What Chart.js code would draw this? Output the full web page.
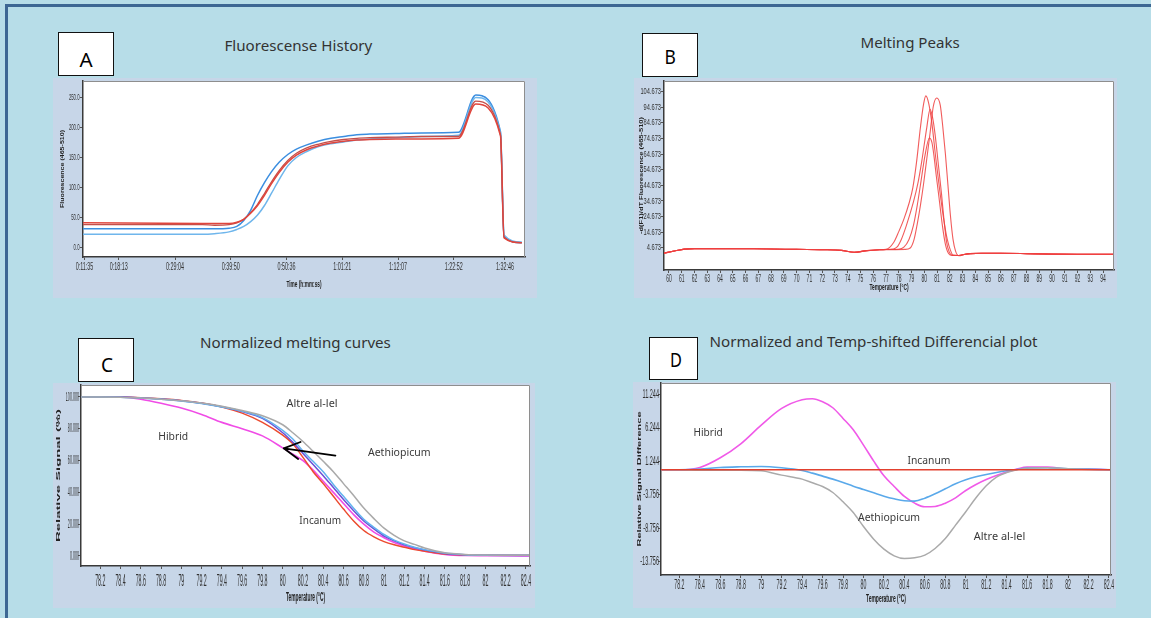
<!DOCTYPE html>
<html><head><meta charset="utf-8">
<script src="https://cdn.jsdelivr.net/npm/chart.js@4.4.1/dist/chart.umd.min.js"></script>
<style>
html,body{margin:0;padding:0;}
body{width:1151px;height:618px;overflow:hidden;background:#b7dde8;position:relative;font-family:"Noto Sans",sans-serif;}
#frame{position:absolute;left:5px;top:4px;width:1400px;height:900px;border-left:3px solid #3d6793;border-top:3px solid #3d6793;}
.plate{position:absolute;background:#c7d6e8;}
.plate canvas{position:absolute;left:0;top:0;}
.box{position:absolute;background:#fff;border:1.5px solid #111;box-sizing:border-box;}
.txt{position:absolute;white-space:nowrap;line-height:1;transform-origin:center center;}
</style></head>
<body>
<div id="frame"></div>
<div class="plate" id="pA"><canvas id="cA"></canvas></div>
<div class="plate" id="pB"><canvas id="cB"></canvas></div>
<div class="plate" id="pC"><canvas id="cC"></canvas></div>
<div class="plate" id="pD"><canvas id="cD"></canvas></div>
<script>
// ---------------- DATA ----------------
// Panel A : Fluorescence history (time in seconds)
const timeTicksA = ["0:11:35","0:18:13","0:29:04","0:39:50","0:50:36","1:01:21","1:12:07","1:22:52","1:32:46"];
const yTicksA = [0, 50, 100, 150, 200, 250];
const timeA = [678, 2060, 2200, 2370, 2460, 2540, 2620, 2700, 2780, 2860, 2950, 3050, 3150, 3270, 3400, 3550, 3700, 3850, 4000, 4300, 4600, 5027, 5228, 5514, 5555, 5761];
const blueA      = [31, 31, 31, 32, 35, 45, 62, 87, 108, 126, 142, 155, 164, 171, 177, 182, 185, 188, 189, 190, 191, 192, 254, 193, 19, 8];
const lightBlueA = [22, 22, 23, 26, 30, 35, 43, 54, 70, 90, 113, 136, 150, 160, 168, 173, 176, 179, 181, 183, 185, 187, 250, 190, 21, 9];
const redA       = [41, 40, 40, 40, 42, 47, 57, 70, 87, 106, 125, 142, 154, 163, 169, 174, 177, 179, 180, 181, 181, 182, 239, 186, 16, 8];
const darkRedA   = [38, 38, 37, 38, 41, 47, 58, 72, 90, 109, 128, 145, 157, 166, 172, 177, 180, 182, 183, 184, 185, 185, 244, 188, 17, 8];

// Panel B : Melting peaks
const xTicksB = [60,61,62,63,64,65,66,67,68,69,70,71,72,73,74,75,76,77,78,79,80,81,82,83,84,85,86,87,88,89,90,91,92,93,94];
const yTicksB = [4.673, 14.673, 24.673, 34.673, 44.673, 54.673, 64.673, 74.673, 84.673, 94.673, 104.673];
const baseTB = [59.6, 60.5, 61.2, 62, 64, 66, 68, 70, 72, 73.5, 74.5, 75.5, 76.5];
const baseVB = [1.2, 2.7, 3.8, 4.1, 4.1, 4.0, 3.9, 3.6, 3.4, 3.0, 1.8, 2.8, 3.4];
const tailTB = [83.2, 83.6, 84.5, 86, 88, 90, 92, 94.8];
const tailVB = [0.5, 0.9, 1.1, 1.1, 0.9, 0.6, 0.5, 0.5];
const peak1T = [77.0, 77.6, 78.0, 78.4, 78.8, 79.1, 79.4, 79.7, 79.95, 80.12, 80.35, 80.6, 80.9, 81.2, 81.5, 81.8, 82.05, 82.25, 82.7];
const peak1V = [3.6, 8, 15, 23, 33, 43, 60, 82, 97, 102, 97, 84, 62, 42, 24, 10, 3, 0, -0.3];
const peak2T = [77.0, 78.5, 78.9, 79.2, 79.45, 79.7, 79.95, 80.2, 80.45, 80.7, 80.98, 81.25, 81.45, 81.65, 81.85, 82.05, 82.25, 82.45, 82.7];
const peak2V = [3.4, 3.6, 4.5, 10, 20, 32, 46, 62, 78, 95, 100.6, 96, 82, 65, 45, 25, 10, 2.5, -0.5];
const peak3T = [77.0, 77.5, 77.85, 78.2, 78.6, 79.15, 79.5, 79.8, 80.2, 80.45, 80.65, 80.85, 81.1, 81.35, 81.55, 81.75, 81.95, 82.2, 82.7];
const peak3V = [3.5, 3.8, 5, 10, 19, 34, 46, 60, 82, 93.4, 88, 77, 58, 39, 22, 8, 2, -0.2, -0.3];
const peak4T = [77.0, 78.0, 78.4, 78.8, 79.15, 79.45, 79.7, 80.06, 80.4, 80.6, 80.75, 80.95, 81.15, 81.4, 81.65, 81.9, 82.2, 82.7];
const peak4V = [3.5, 3.7, 5, 10, 19, 32, 45, 64, 75, 72, 64, 50, 37, 20, 7, 1, -0.3, -0.3];

// Panel C : Normalized melting curves
const xTicksCD = [78.2,78.4,78.6,78.8,79,79.2,79.4,79.6,79.8,80,80.2,80.4,80.6,80.8,81,81.2,81.4,81.6,81.8,82,82.2,82.4];
const yTicksC = [0, 20, 40, 60, 80, 100];
const tempC = [78.01, 78.2, 78.4, 78.6, 78.8, 79.0, 79.2, 79.4, 79.6, 79.8, 80.0, 80.1, 80.2, 80.3, 80.4, 80.5, 80.6, 80.7, 80.8, 80.9, 81.0, 81.1, 81.2, 81.3, 81.4, 81.6, 81.8, 82.0, 82.2, 82.44];
const altreC   = [100, 100, 99.8, 99.3, 98.6, 97.6, 96.2, 94.2, 91.5, 88.2, 82.5, 77.5, 72.0, 65.8, 59.5, 53, 45.5, 38, 30.1, 23.5, 17.5, 13, 9.5, 7.3, 5, 2, 1, 0.6, 0.5, 0.5];
const aethC    = [100, 100, 99.8, 99.3, 98.6, 97.4, 95.8, 93.6, 91, 87, 79, 73.5, 66, 59.5, 53, 45, 37.5, 30, 23, 18, 13.5, 10, 7.5, 5.5, 4, 1.8, 0.8, 0.5, 0.4, 0.4];
const purpleC  = [100, 100, 99.9, 99.4, 98.7, 97.6, 96, 93.8, 90.8, 86.5, 77.5, 71.5, 64.5, 57.5, 50.5, 43, 35.5, 28.5, 22, 17, 12.5, 9.5, 7, 5.2, 3.8, 1.6, 0.7, 0.4, 0.3, 0.3];
const incanumC = [100, 100, 99.9, 99.5, 98.8, 97.8, 96.2, 93.7, 89.8, 84, 76, 70.5, 62, 53, 45.5, 37.5, 29.5, 22, 16, 12, 9, 7, 5.5, 4, 3, 1.2, 0.6, 0.5, 0.5, 0.5];
const hibridC  = [100, 100, 100, 98.5, 96, 93, 89, 84, 80, 75.5, 68, 64, 60, 54, 47, 40, 33, 26, 20, 15, 11.5, 8.5, 6.3, 4.5, 3, 1, 0.3, 0.2, 0.2, 0];

// Panel D : Differential plot
const yTicksD = [-13.756, -8.756, -3.756, 1.244, 6.244, 11.244];
const tempD = [78.02, 78.2, 78.4, 78.6, 78.8, 79.0, 79.2, 79.4, 79.5, 79.6, 79.7, 79.8, 79.9, 80.0, 80.1, 80.2, 80.3, 80.4, 80.5, 80.6, 80.7, 80.8, 80.9, 81.0, 81.1, 81.2, 81.3, 81.4, 81.5, 81.6, 81.8, 82.0, 82.2, 82.42];
const hibridD  = [0, 0, 0.35, 1.8, 3.9, 6.7, 9.2, 10.5, 10.65, 10.2, 9.3, 7.7, 6.0, 3.7, 1.3, -0.9, -2.5, -4.0, -5.0, -5.55, -5.5, -5.0, -4.2, -3.1, -2.2, -1.45, -0.85, -0.35, 0.1, 0.4, 0.4, 0.1, 0.1, 0];
const aethD    = [0, 0, 0.1, 0.35, 0.45, 0.5, 0.3, -0.1, -0.5, -0.95, -1.4, -1.9, -2.45, -2.95, -3.45, -3.95, -4.35, -4.65, -4.7, -4.25, -3.6, -2.85, -2.1, -1.5, -1.05, -0.7, -0.4, -0.15, 0.05, 0.25, 0.3, 0.15, 0.1, 0];
const altreD   = [0, 0, -0.05, -0.05, -0.05, -0.15, -0.8, -1.4, -1.95, -2.5, -3.4, -4.8, -6.4, -8.5, -10.4, -11.9, -12.9, -13.3, -13.2, -12.8, -11.8, -10.3, -8.3, -6.3, -4.2, -2.4, -1.1, -0.4, 0.0, 0.25, 0.3, 0.15, 0.05, 0];
const incanumD = [0, 0, 0, 0, 0, 0, 0, 0, 0, 0, 0, 0, 0, 0, 0, 0, 0, 0, 0, 0, 0, 0, 0, 0, 0, 0, 0, 0, 0, 0, 0, 0, 0, 0];

// ---------------- LAYOUT ----------------
const layout = {
  A:{plate:{l:53,t:78,r:537,b:298}, plot:{l:83,t:81,r:525,b:257}},
  B:{plate:{l:634,t:78,r:1117,b:298}, plot:{l:664,t:81,r:1114,b:270}},
  C:{plate:{l:53,t:383,r:535,b:608}, plot:{l:81,t:385,r:530,b:566}},
  D:{plate:{l:633,t:382,r:1116,b:608}, plot:{l:661,t:383,r:1111,b:575}}
};
const TF = '"Liberation Sans", Arial, sans-serif';
const TICK_COLOR = '#333';
const NOTE_FONT = '11px "Noto Sans", sans-serif';

function toSec(s){ const p = s.split(':').map(Number); return p[0]*3600 + p[1]*60 + p[2]; }
function fmtTime(v){ const h=Math.floor(v/3600), m=Math.floor((v%3600)/60), s=Math.round(v%60); return h+':'+String(m).padStart(2,'0')+':'+String(s).padStart(2,'0'); }
function pts(xs, ys){ return xs.map((x,i)=>({x:x, y:ys[i]})); }

function ctext(ctx, str, x, y, font, sx, align, color, rot){
  ctx.save(); ctx.translate(x, y); if (rot) ctx.rotate(rot); ctx.scale(sx, 1);
  ctx.font = font; ctx.fillStyle = color; ctx.textAlign = align; ctx.textBaseline = 'middle';
  ctx.fillText(str, 0, 0); ctx.restore();
}
function wscale(ctx, str, font, w){ ctx.save(); ctx.font = font; const m = ctx.measureText(str).width; ctx.restore(); return w / m; }

function makePlugin(cfg, P){
  return {
    id: 'fig',
    beforeDraw(chart){
      const {ctx, chartArea:a} = chart;
      ctx.save(); ctx.fillStyle = '#ffffff'; ctx.fillRect(a.left, a.top, a.right-a.left, a.bottom-a.top); ctx.restore();
    },
    afterDraw(chart){
      const {ctx, chartArea:a} = chart; const xs = chart.scales.x, ys = chart.scales.y;
      ctx.save(); ctx.strokeStyle = '#8e8e8e'; ctx.lineWidth = 1;
      ctx.beginPath(); ctx.moveTo(a.left, a.top+0.5); ctx.lineTo(a.right-0.5, a.top+0.5); ctx.lineTo(a.right-0.5, a.bottom); ctx.stroke(); ctx.restore();
      cfg.yTicks.forEach(v => ctext(ctx, cfg.yFmt(v), a.left - cfg.yLab.gap, ys.getPixelForValue(v), cfg.yLab.font, cfg.yLab.sx, 'right', TICK_COLOR));
      cfg.xTicks.forEach(v => ctext(ctx, cfg.xFmt(v), xs.getPixelForValue(v), a.bottom + cfg.xLab.dy, cfg.xLab.font, cfg.xLab.sx, 'center', TICK_COLOR));
      const xt = cfg.xTitle;
      ctext(ctx, xt.text, (a.left+a.right)/2, xt.y - P.t, xt.font, wscale(ctx, xt.text, xt.font, xt.w), 'center', '#222');
      const yt = cfg.yTitle;
      ctext(ctx, yt.text, yt.x - P.l, (a.top+a.bottom)/2, yt.font, wscale(ctx, yt.text, yt.font, yt.w), 'center', '#222', -Math.PI/2);
      (cfg.notes || []).forEach(n => ctext(ctx, n.text, xs.getPixelForValue(n.x), ys.getPixelForValue(n.y), NOTE_FONT, wscale(ctx, n.text, NOTE_FONT, n.w), 'center', '#3a3a3a'));
      if (cfg.arrow){
        const x0 = xs.getPixelForValue(cfg.arrow.from[0]), y0 = ys.getPixelForValue(cfg.arrow.from[1]);
        const x1 = xs.getPixelForValue(cfg.arrow.to[0]), y1 = ys.getPixelForValue(cfg.arrow.to[1]);
        const ang = Math.atan2(y0-y1, x0-x1), L = 18;
        ctx.save(); ctx.strokeStyle = '#000'; ctx.lineWidth = 1.8; ctx.lineCap = 'round';
        ctx.beginPath(); ctx.moveTo(x0,y0); ctx.lineTo(x1,y1);
        [-0.5, 0.5].forEach(d => { ctx.moveTo(x1,y1); ctx.lineTo(x1 + L*Math.cos(ang+d), y1 + L*Math.sin(ang+d)); });
        ctx.stroke(); ctx.restore();
      }
    }
  };
}

function build(key, cfg){
  const P = layout[key].plate, Q = layout[key].plot;
  const wrap = document.getElementById('p'+key), cv = document.getElementById('c'+key);
  const W = P.r - P.l, H = P.b - P.t;
  wrap.style.left = P.l+'px'; wrap.style.top = P.t+'px'; wrap.style.width = W+'px'; wrap.style.height = H+'px';
  cv.width = W; cv.height = H; cv.style.width = W+'px'; cv.style.height = H+'px';
  const axisCommon = {
    type:'linear',
    grid:{display:true, drawOnChartArea:false, drawTicks:true, tickLength:3, color:'#555', lineWidth:1},
    border:{display:true, color:'#3a3a3a', width:1.5},
    ticks:{color:'rgba(0,0,0,0)', autoSkip:false, maxRotation:0, minRotation:0, font:{size:6}}
  };
  return new Chart(cv, {
    type:'line',
    data:{datasets: cfg.datasets},
    options:{
      responsive:false, animation:false, maintainAspectRatio:false,
      layout:{autoPadding:false, padding:{left:0, top:Q.t-P.t, right:P.r-Q.r, bottom:0}},
      plugins:{legend:{display:false}, tooltip:{enabled:false}},
      elements:{point:{radius:0}, line:{borderWidth:1.4, cubicInterpolationMode:'monotone'}},
      scales:{
        x:Object.assign({}, axisCommon, {min:cfg.xMin, max:cfg.xMax,
          afterBuildTicks:s=>{ s.ticks = cfg.xTicks.map(v=>({value:v})); },
          afterFit:s=>{ s.height = P.b - Q.b; s.paddingLeft = 0; s.paddingRight = 0; }}),
        y:Object.assign({}, axisCommon, {min:cfg.yMin, max:cfg.yMax,
          afterBuildTicks:s=>{ s.ticks = cfg.yTicks.map(v=>({value:v})); },
          afterFit:s=>{ s.width = Q.l - P.l; s.paddingTop = 0; s.paddingBottom = 0; }})
      }
    },
    plugins:[makePlugin(cfg, P)]
  });
}

function ds(data, color, width){ return {data:data, borderColor:color, borderWidth:width||1.4, fill:false, pointRadius:0}; }

// Panel A
build('A', {
  xMin:678, xMax:5798, yMin:-15.9, yMax:277.5,
  xTicks: timeTicksA.map(toSec), xFmt: fmtTime,
  yTicks: yTicksA, yFmt: v => v.toFixed(1),
  yLab:{font:'9px '+TF, sx:0.47, gap:3.5}, xLab:{font:'10px '+TF, sx:0.54, dy:10.5},
  xTitle:{text:'Time (h:mm:ss)', y:284.5, font:'bold 8.5px '+TF, w:35},
  yTitle:{text:'Fluorescence (465-510)', x:62.5, font:'bold 5.5px '+TF, w:78},
  datasets:[
    ds(pts(timeA, redA), '#e0453c', 1.5),
    ds(pts(timeA, darkRedA), '#c44f4a', 1.3),
    ds(pts(timeA, lightBlueA), '#6fb6ec', 1.5),
    ds(pts(timeA, blueA), '#3b8ee0', 1.5)
  ]
});

// Panel B
const bColor = 'rgba(238,62,62,0.85)';
build('B', {
  xMin:59.61, xMax:94.86, yMin:-9.6, yMax:111.5,
  xTicks: xTicksB, xFmt: v => String(v),
  yTicks: yTicksB, yFmt: v => v.toFixed(3),
  yLab:{font:'9.5px '+TF, sx:0.6, gap:3}, xLab:{font:'10px '+TF, sx:0.5, dy:9.5},
  xTitle:{text:'Temperature (°C)', y:288, font:'bold 8.5px '+TF, w:39},
  yTitle:{text:'-d(F1)/dT Fluorescence (465-510)', x:641.5, font:'bold 4.5px '+TF, w:117},
  datasets:[
    ds(pts(baseTB.concat(peak1T, tailTB), baseVB.concat(peak1V, tailVB)), bColor, 1.1),
    ds(pts(baseTB.concat(peak2T, tailTB), baseVB.concat(peak2V, tailVB)), bColor, 1.1),
    ds(pts(baseTB.concat(peak3T, tailTB), baseVB.concat(peak3V, tailVB)), bColor, 1.1),
    ds(pts(baseTB.concat(peak4T, tailTB), baseVB.concat(peak4V, tailVB)), bColor, 1.1)
  ]
});

// Panel C
const fmtT = v => String(parseFloat(v.toFixed(1)));
build('C', {
  xMin:78.01, xMax:82.44, yMin:-6.3, yMax:107.5,
  xTicks: xTicksCD, xFmt: fmtT,
  yTicks: yTicksC, yFmt: v => v.toFixed(3),
  yLab:{font:'13px '+TF, sx:0.28, gap:2}, xLab:{font:'17px '+TF, sx:0.31, dy:15.5},
  xTitle:{text:'Temperature (°C)', y:598, font:'bold 12px '+TF, w:39},
  yTitle:{text:'Relative Signal (%)', x:58, font:'bold 5.5px '+TF, w:133},
  notes:[
    {text:'Altre al-lel', x:80.29, y:95.6, w:51},
    {text:'Hibrid', x:78.92, y:74.8, w:30},
    {text:'Aethiopicum', x:81.15, y:64.8, w:62.6},
    {text:'Incanum', x:80.37, y:22, w:41.7}
  ],
  arrow:{from:[80.52, 63.1], to:[80.01, 67.7]},
  datasets:[
    ds(pts(tempC, altreC), '#a9a9a9', 1.5),
    ds(pts(tempC, aethC), '#62b2ee', 1.5),
    ds(pts(tempC, purpleC), '#6b4fd6', 1.5),
    ds(pts(tempC, incanumC), '#ec4a2e', 1.5),
    ds(pts(tempC, hibridC), '#f04ce6', 1.6)
  ]
});

// Panel D
build('D', {
  xMin:78.02, xMax:82.42, yMin:-15.77, yMax:13.01,
  xTicks: xTicksCD, xFmt: fmtT,
  yTicks: yTicksD, yFmt: v => v.toFixed(3),
  yLab:{font:'12px '+TF, sx:0.46, gap:2}, xLab:{font:'14.5px '+TF, sx:0.36, dy:10},
  xTitle:{text:'Temperature (°C)', y:599.3, font:'bold 11px '+TF, w:40},
  yTitle:{text:'Relative Signal Difference', x:639, font:'bold 5.5px '+TF, w:135},
  notes:[
    {text:'Hibrid', x:78.48, y:5.52, w:29.3},
    {text:'Incanum', x:80.64, y:1.32, w:43},
    {text:'Aethiopicum', x:80.25, y:-7.18, w:62},
    {text:'Altre al-lel', x:81.33, y:-10.03, w:51.5}
  ],
  datasets:[
    ds(pts(tempD, incanumD), '#e2402e', 1.5),
    ds(pts(tempD, altreD), '#aaaaaa', 1.5),
    ds(pts(tempD, aethD), '#5aa9ea', 1.6),
    ds(pts(tempD, hibridD), '#f05ae8', 1.6)
  ]
});

// ---------------- HTML TEXT (titles and panel letters) ----------------
function placeText(str, cx, cy, font, color, w){
  const d = document.createElement('div'); d.className = 'txt'; d.textContent = str;
  d.style.font = font; d.style.color = color; document.body.appendChild(d);
  const ow = d.offsetWidth, oh = d.offsetHeight;
  d.style.left = (cx - ow/2)+'px'; d.style.top = (cy - oh/2)+'px';
  if (w) d.style.transform = 'scaleX('+(w/ow)+')';
}
function placeBox(l, t, r, b){
  const d = document.createElement('div'); d.className = 'box';
  d.style.left = l+'px'; d.style.top = t+'px'; d.style.width = (r-l)+'px'; d.style.height = (b-t)+'px';
  document.body.appendChild(d);
}
placeBox(58, 32, 114, 76); placeBox(642, 33, 698, 77); placeBox(78, 338, 134, 382); placeBox(649, 337, 698, 380);
const LF = '19px "Noto Sans", sans-serif';
placeText('A', 86, 59.5, LF, '#000', 13); placeText('B', 670, 57, LF, '#000', 11);
placeText('C', 107, 365, LF, '#000', 12); placeText('D', 676, 360, LF, '#000', 12);
const HF = '14px "Noto Sans", sans-serif';
placeText('Fluorescense History', 298, 45, HF, '#333', 148);
placeText('Melting Peaks', 910, 42, HF, '#333', 99);
placeText('Normalized melting curves', 295.5, 342, HF, '#333', 191);
placeText('Normalized and Temp-shifted Differencial plot', 873, 341, HF, '#333', 328);
</script>
</body></html>
